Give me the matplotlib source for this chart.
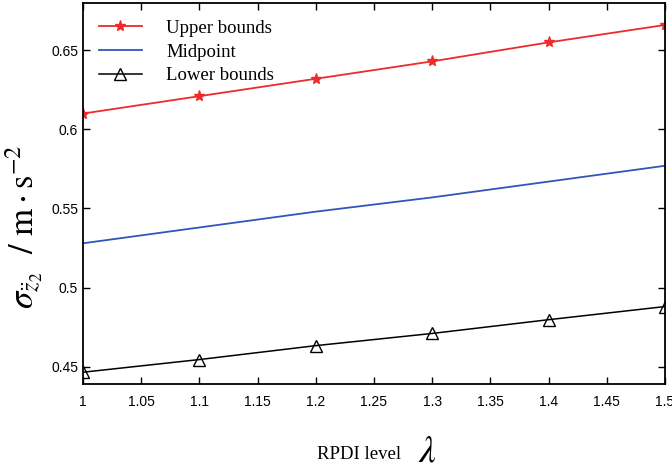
import numpy as np
import matplotlib
matplotlib.use("Agg")
import matplotlib.pyplot as plt

# values
lam = [1.0, 1.1, 1.2, 1.3, 1.4, 1.5]
upper = [0.610, 0.621, 0.632, 0.643, 0.655, 0.666]
mid = [0.528, 0.538, 0.548, 0.557, 0.567, 0.577]
lower = [0.4465, 0.4545, 0.4633, 0.4710, 0.4797, 0.4880]

xticks = [1, 1.05, 1.1, 1.15, 1.2, 1.25, 1.3, 1.35, 1.4, 1.45, 1.5]
xticklabels = ["1", "1.05", "1.1", "1.15", "1.2", "1.25", "1.3", "1.35", "1.4", "1.45", "1.5"]
yticks = [0.45, 0.5, 0.55, 0.6, 0.65]
yticklabels = ["0.45", "0.5", "0.55", "0.6", "0.65"]

plt.rcParams["mathtext.fontset"] = "stix"
tick_font = ["Liberation Sans Narrow", "Liberation Sans", "DejaVu Sans"]

fig = plt.figure(figsize=(6.72, 4.73), dpi=100)
ax = fig.add_axes([0.1235, 0.188, 0.866, 0.806])

ax.plot(lam, upper, color="#ee2a2a", lw=1.3, marker="*", ms=8, label="Upper bounds")
ax.plot(lam, mid, color="#3355bb", lw=1.3, label="Midpoint")
ax.plot(lam, lower, color="black", lw=1.1, marker="^", ms=8, mfc="none", mec="black",
        label="Lower bounds")

ax.set_xlim(1, 1.5)
ax.set_ylim(0.439, 0.68)
ax.set_xticks(xticks)
ax.set_xticklabels(xticklabels, family=tick_font, fontsize=10)
ax.set_yticks(yticks)
ax.set_yticklabels(yticklabels, family=tick_font, fontsize=10)
ax.tick_params(direction="in", top=True, right=True, length=5, width=1)
ax.tick_params(axis="x", pad=8)
for s in ax.spines.values():
    s.set_linewidth(1.3)

leg = ax.legend(loc="upper left", bbox_to_anchor=(-0.002, 1.0), frameon=False,
                prop={"family": "Liberation Serif", "size": 13.5},
                handlelength=2.3, handletextpad=1.3, labelspacing=0.35)

fig.text(0.037, 0.52, r"$\sigma_{\ddot{z}_2}\ \ /\ \mathrm{m \cdot s^{-2}}$",
         rotation=90, ha="center", va="center", fontsize=25)
fig.text(0.597, 0.040, "RPDI level", family="Liberation Serif", fontsize=13.5,
         ha="right", va="center")
fig.text(0.622, 0.008, r"$\lambda$", fontsize=27, ha="left", va="bottom")

fig.savefig("out.png", dpi=100)
